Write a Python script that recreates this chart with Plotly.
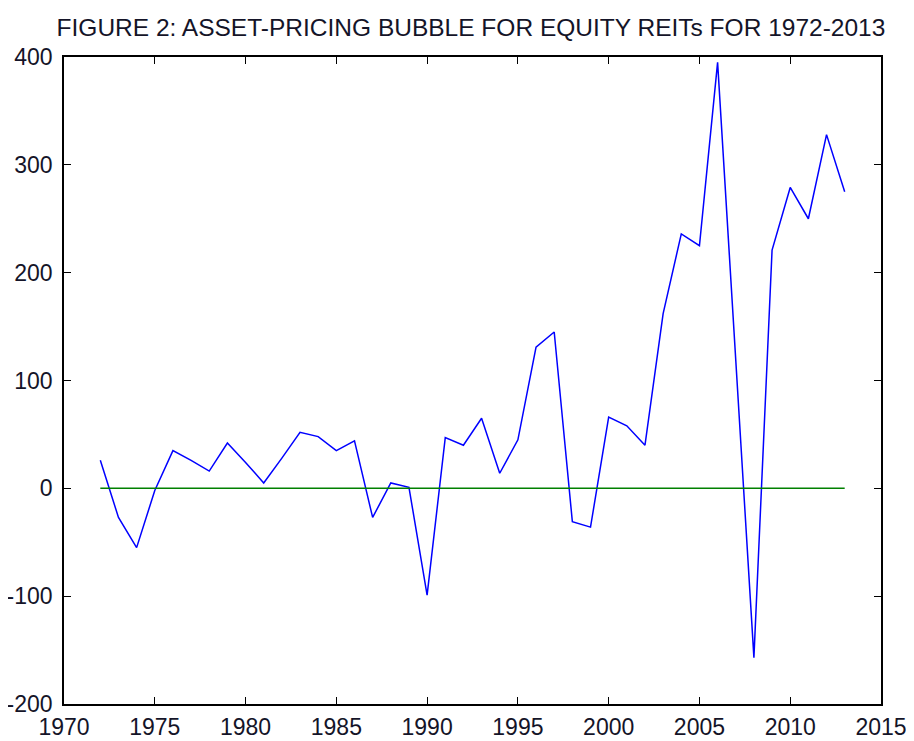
import plotly.graph_objects as go

years = list(range(1972, 2014))
bubble = [26, -27, -55, -2, 35, 26, 16, 42, 24, 5, 28, 52, 48, 35, 44,
          -27, 5, 1, -99, 47, 40, 65, 14, 45, 131, 145, -31, -36, 66, 58,
          40, 162, 236, 225, 395, 118, -157, 221, 279, 250, 328, 275]
zero_line = [0] * len(years)

x_ticks = [1970, 1975, 1980, 1985, 1990, 1995, 2000, 2005, 2010, 2015]
y_ticks = [-200, -100, 0, 100, 200, 300, 400]

fig = go.Figure()
fig.add_trace(go.Scatter(x=years, y=bubble, mode="lines",
                         line=dict(color="#0000FF", width=1.5), showlegend=False))
fig.add_trace(go.Scatter(x=years, y=zero_line, mode="lines",
                         line=dict(color="#008000", width=1.5), showlegend=False))

axis_common = dict(showgrid=False, zeroline=False, showline=True, linecolor="black",
                   linewidth=1.5, ticks="inside", ticklen=7, tickcolor="black",
                   mirror="ticks", automargin=False,
                   tickfont=dict(family="Liberation Sans, Arial", size=23, color="#141428"))

fig.update_layout(
    width=906, height=733,
    paper_bgcolor="white", plot_bgcolor="white",
    margin=dict(l=56, r=33, t=49, b=37),
    title=dict(text="FIGURE 2: ASSET-PRICING BUBBLE FOR EQUITY REITs FOR 1972-2013",
               x=0.511, xanchor="center", y=0.974, yanchor="middle",
               font=dict(family="Liberation Sans, Arial", size=24.5, color="#141428")),
    xaxis=dict(range=[1970, 2015], tickvals=x_ticks, ticktext=[str(v) for v in x_ticks],
               ticklabelstandoff=2, **axis_common),
    yaxis=dict(range=[-200, 400], tickvals=y_ticks, ticktext=[str(v) for v in y_ticks],
               ticklabelstandoff=5, **axis_common),
)

fig.write_html("out.html")
